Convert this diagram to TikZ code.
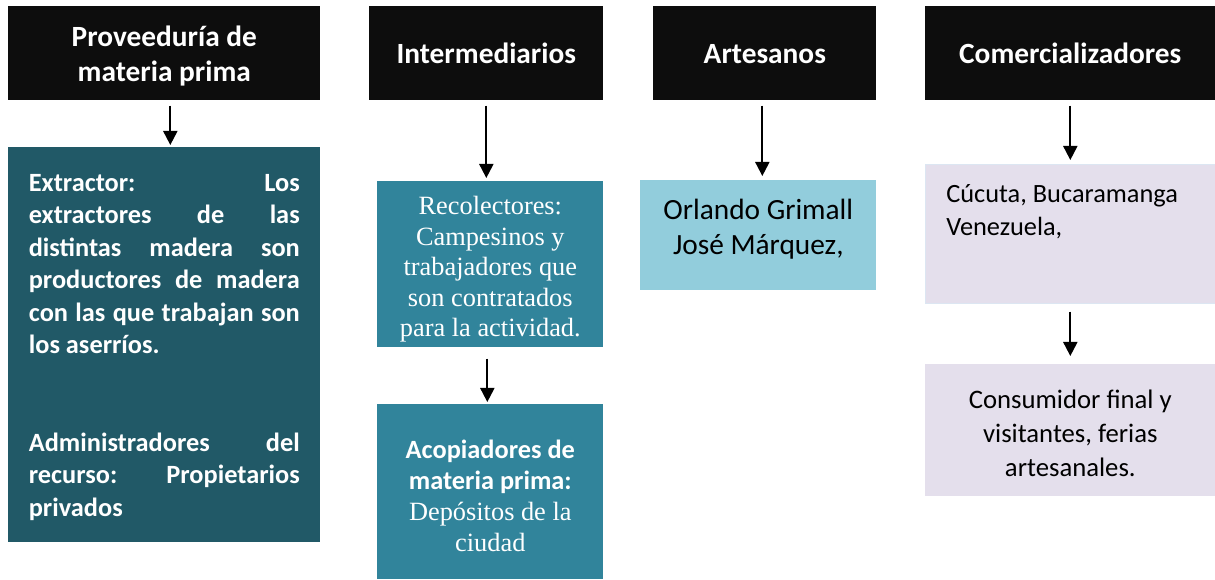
\documentclass[tikz,border=0pt]{standalone}
\usepackage{fontspec}
\setmainfont{Carlito}
\newfontfamily\timesfont{Liberation Serif}
\usetikzlibrary{positioning,calc,arrows.meta}
\definecolor{hdrblack}{HTML}{0D0D0D}
\definecolor{tealdark}{HTML}{215967}
\definecolor{tealmid}{HTML}{31849B}
\definecolor{lightblue}{HTML}{92CDDC}
\definecolor{lavender}{HTML}{E4DFEC}
\definecolor{lavedge}{HTML}{DCE6F2}
\newcommand{\topfill}[1]{\rule{0pt}{#1}}
\newcommand{\botfill}[1]{\rule[-#1]{0pt}{#1}}

\tikzset{
  hdr/.style={rectangle, anchor=north west, fill=hdrblack, text=white, inner sep=0pt,
    minimum height=1.88cm, align=center, font=\fontsize{16.7}{20.2}\selectfont\bfseries},
  box/.style={rectangle, anchor=north west, inner sep=0pt, align=center},
  flow/.style={-{Triangle[width=8pt,length=8pt]}, line width=1.1pt},
}

\begin{document}
\begin{tikzpicture}[x=0.02cm, y=-0.02cm]
  \useasboundingbox (0,0) rectangle (1215,579);
  %
  \node[hdr, minimum width=6.24cm] (prov) at (8,6) {\topfill{15pt}Proveeduría de\\materia prima};
  \node[hdr, minimum width=4.68cm] (inter) at (369,6) {\topfill{15pt}\botfill{4pt}Intermediarios};
  \node[hdr, minimum width=4.46cm] (art) at (653,6) {\topfill{15pt}\botfill{4pt}Artesanos};
  \node[hdr, minimum width=5.80cm] (com) at (925,6) {\topfill{15pt}\botfill{4pt}Comercializadores};
  %
  \node[box, fill=tealdark, text=white, minimum width=6.24cm, minimum height=7.9cm,
    text width=5.42cm, align=justify, font=\fontsize{15}{18.5}\selectfont\bfseries] (extr) at (8,147)
    {\topfill{12.5pt}Extractor: Los\linebreak extractores de las\linebreak distintas madera son\linebreak
     productores de madera\linebreak con las que trabajan son\linebreak los aserríos.\par
     \vspace{37pt}Administradores del\linebreak recurso: Propietarios\linebreak privados};
  \node[box, fill=tealmid, text=white, minimum width=4.52cm, minimum height=3.32cm,
    font=\timesfont\fontsize{15}{17.4}\selectfont] (reco) at (377,181)
    {\topfill{16pt}Recolectores:\\Campesinos y\\trabajadores que\\son contratados\\para la actividad.};
  \node[box, fill=tealmid, text=white, minimum width=4.52cm, minimum height=3.5cm,
    font=\fontsize{15}{17.6}\selectfont] (acop) at (377,404)
    {\topfill{15.5pt}\textbf{Acopiadores de}\\\textbf{materia prima:}\\{\timesfont Depósitos de la}\\{\timesfont ciudad}};
  \node[box, fill=lightblue, minimum width=4.72cm, minimum height=2.2cm,
    font=\fontsize{16.7}{20}\selectfont] (orl) at (640,180) {Orlando Grimall\\José Márquez,\botfill{10pt}};
  \node[box, fill=lavender, draw=lavedge, minimum width=5.8cm, minimum height=2.78cm] (cuc) at (925,164) {};
  \node[box, align=left, font=\fontsize{15}{18.8}\selectfont] (cuctxt)
    at ([xshift=0.42cm, yshift=-0.4cm]cuc.north west) {Cúcuta, Bucaramanga\\Venezuela,};
  \node[box, fill=lavender, minimum width=5.8cm, minimum height=2.64cm,
    font=\fontsize{15.2}{19.3}\selectfont] (cons) at (925,364)
    {\topfill{14pt}Consumidor final y\\visitantes, ferias\\artesanales.};
  %
  \draw[flow, shorten <=0.1cm, shorten >=0.04cm] ([xshift=0.12cm]prov.south) -- ([xshift=0.12cm]prov.south |- extr.north);
  \draw[flow, shorten <=0.1cm, shorten >=0.06cm] (inter.south) -- (inter.south |- reco.north);
  \draw[flow, shorten <=0.22cm, shorten >=0.04cm] ([xshift=-0.06cm]reco.south) -- ([xshift=-0.06cm]reco.south |- acop.north);
  \draw[flow, shorten <=0.1cm, shorten >=0.08cm] ([xshift=-0.05cm]art.south) -- ([xshift=-0.05cm]art.south |- orl.north);
  \draw[flow, shorten <=0.1cm, shorten >=0.08cm] (com.south) -- (com.south |- cuc.north);
  \draw[flow, shorten <=0.16cm, shorten >=0.16cm] (cuc.south) -- (cons.north);
\end{tikzpicture}
\end{document}
